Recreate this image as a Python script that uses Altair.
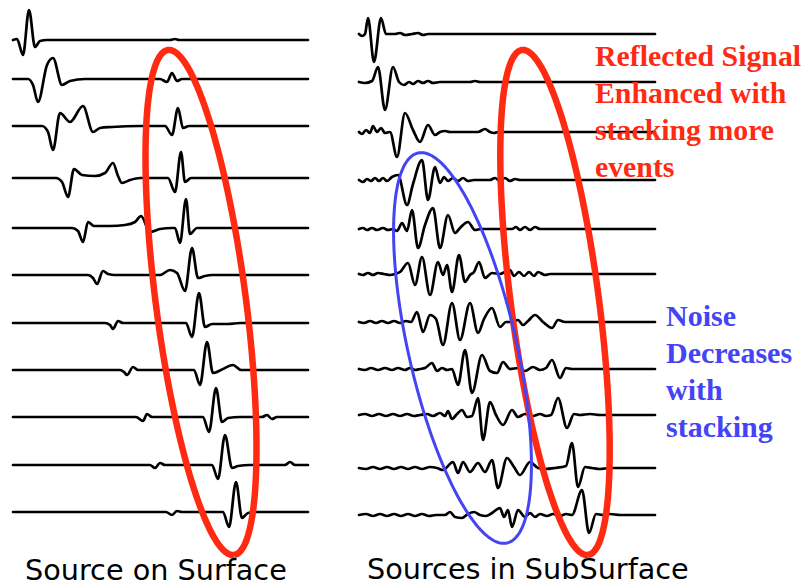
import math
import altair as alt
import pandas as pd

# ---------------- data ----------------
# Baselines of the 11 traces in each panel (plot units, y grows downward)
LEFT_BASE = [40, 79, 126, 178, 228, 275, 323, 370, 417, 465, 512]
RIGHT_BASE = [34, 82, 132, 180, 229, 274, 322, 369, 415, 468, 515]

# Trace samples: (time position, upward deflection)
LEFT_TRACES = [
    [(13, 0), (17, 1), (23, -15), (29, 30), (35, -7), (40, -1), (47, 0), (170, 0), (175, 1), (179, 0), (308, 0)],
    [(13, 0), (28, 0), (33, -6), (38, -23), (47, 14), (53, 21), (62, -6), (70, -2), (85, 0), (160, 0), (167, -3),
     (172, 6), (177, -2), (182, 0), (308, 0)],
    [(13, 0), (42, 0), (48, -6), (53, -24), (60, 13), (70, 4), (83, 20), (93, -6), (100, -2), (112, -1), (140, 0),
     (165, 0), (172, -9), (178, 18), (183, -2), (189, 0), (308, 0)],
    [(13, 0), (56, 0), (62, -4), (68, -19), (74, 9), (82, 3), (95, 2), (105, 5), (113, 15), (118, 2), (122, -5),
     (130, -2), (140, 0), (168, 0), (175, -14), (181, 26), (185, -4), (191, 0), (308, 0)],
    [(13, 0), (72, 0), (78, -3), (83, -14), (88, 6), (94, 2), (110, 2), (125, 3), (135, 6), (141, 12), (150, -4),
     (160, -1), (172, 0), (175, 0), (180, -15), (186, 29), (190, -6), (197, 0), (308, 0)],
    [(13, 0), (88, 0), (93, -3), (97, -9), (103, 4), (108, 1), (115, 0), (160, 0), (170, 5), (177, 2), (185, -16),
     (192, 27), (198, -3), (205, -1), (212, 0), (308, 0)],
    [(13, 0), (105, 0), (110, -2), (113, -6), (118, 2), (123, 0), (186, 0), (192, -14), (199, 30), (205, -4),
     (212, -1), (228, -1), (240, 0), (308, 0)],
    [(13, 0), (120, 0), (124, -2), (127, -5), (133, 3), (138, 0), (194, 0), (200, -15), (207, 28), (213, -3),
     (221, 0), (233, 5), (241, 0), (308, 0)],
    [(13, 0), (136, 0), (143, -4), (147, 3), (152, 0), (203, 0), (209, -15), (216, 29), (222, -5), (228, -1),
     (240, 0), (262, 0), (267, 2), (272, -2), (277, 0), (308, 0)],
    [(13, 0), (150, 0), (155, -3), (160, 2), (165, 0), (212, 0), (218, -14), (225, 30), (232, -3), (238, -1),
     (250, 0), (285, 0), (290, 3), (295, 0), (308, 0)],
    [(13, 0), (166, 0), (172, -3), (177, 1), (182, 0), (223, 0), (229, -15), (236, 30), (242, -6), (248, -1),
     (256, 0), (308, 0)],
]

RIGHT_TRACES = [
    [(359, 0), (362, -2), (365, 0), (368, 16), (374, -28), (381, 16), (386, 0), (395, 0), (400, 1), (405, -1),
     (412, 0), (418, 1), (423, -1), (428, 0), (655, 0)],
    [(359, 0), (365, -1), (372, 1), (378, 15), (385, -28), (393, 15), (399, 0), (404, -3), (409, 0), (413, -2),
     (418, 1), (423, -1), (428, 1), (433, -1), (440, 0), (470, 0), (475, 1), (480, 0), (655, 0)],
    [(359, 0), (362, -2), (366, 2), (370, -1), (373, 6), (377, 0), (381, 4), (385, -1), (390, 0), (397, -25),
     (405, 19), (413, 2), (420, -10), (428, 7), (435, -3), (440, 0), (445, 1), (450, 0), (478, 0), (485, 3),
     (490, 0), (494, -1), (498, 0), (655, 0)],
    [(359, 0), (363, -2), (367, 1), (371, -1), (375, 2), (379, -1), (383, 2), (387, -1), (392, 3), (398, 5),
     (407, -25), (413, -4), (422, 20), (428, -20), (435, 13), (440, -3), (444, 3), (448, -1), (453, 2),
     (458, -1), (463, 2), (468, -1), (474, 0), (490, 0), (495, 2), (500, -1), (505, 2), (510, -1), (515, 1),
     (520, 0), (655, 0)],
    [(359, 0), (363, 1), (367, -1), (372, 1), (377, -1), (383, 1), (388, -1), (393, 0), (397, -2), (402, 6),
     (407, -2), (412, 19), (418, -19), (425, 4), (433, 21), (440, -19), (448, 14), (455, -4), (460, 1),
     (468, 7), (475, -1), (481, 0), (512, 0), (516, 2), (520, -1), (525, 2), (530, -1), (535, 2), (540, 0),
     (655, 0)],
    [(359, 0), (363, -1), (368, 1), (373, -1), (378, 1), (384, 0), (390, -1), (395, 0), (400, 2), (408, 11),
     (415, -11), (422, 17), (430, -21), (438, 12), (443, -1), (447, 9), (452, -18), (459, 19), (465, -8),
     (470, -1), (474, 2), (479, 12), (485, -4), (492, 1), (500, 0), (505, 2), (510, 4), (514, -2), (519, 2),
     (524, -2), (529, 2), (534, -2), (538, 2), (545, -1), (550, 0), (655, 0)],
    [(359, 0), (364, -1), (370, 1), (376, -1), (382, 1), (388, -1), (394, 1), (400, -1), (406, 1), (411, 0),
     (417, 10), (423, -10), (430, 7), (436, 3), (443, -23), (452, 19), (460, -18), (470, 19), (478, -11),
     (484, 3), (492, 14), (500, -5), (506, 0), (512, 0), (518, 2), (523, -3), (528, 1), (535, 7), (543, 0),
     (552, -6), (558, 2), (565, 0), (655, 0)],
    [(359, 0), (365, -1), (371, 1), (378, -1), (385, 1), (392, -1), (398, 1), (405, -1), (410, 1), (415, -1),
     (420, 0), (425, 1), (432, 6), (437, -2), (442, 1), (447, -1), (452, 0), (458, -16), (465, 19), (472, -24),
     (482, 14), (490, -2), (497, -4), (503, 7), (510, 0), (518, 1), (525, -2), (533, 2), (540, -1), (546, 1),
     (552, 9), (560, -9), (566, 1), (572, 0), (655, 0)],
    [(359, 0), (365, 1), (372, -1), (379, 1), (386, -1), (393, 1), (400, -1), (407, 1), (414, -1), (420, 0),
     (427, 1), (433, -1), (440, 2), (445, -1), (448, 4), (452, -4), (457, 1), (462, 5), (467, -2), (472, -1),
     (478, 17), (483, -25), (490, 13), (496, 0), (503, -10), (512, 5), (518, -2), (525, 1), (533, -1),
     (540, 1), (546, -1), (551, 0), (558, 17), (567, -13), (574, 1), (580, 0), (590, 1), (600, 0), (655, 0)],
    [(359, 0), (366, -1), (373, 1), (380, -1), (387, 1), (394, -1), (401, 1), (408, -1), (415, 1), (422, -1),
     (430, 1), (437, 0), (443, -2), (453, 6), (458, -5), (463, 6), (470, -4), (478, 5), (485, -4), (492, 8),
     (498, -20), (507, 10), (514, 1), (520, -7), (530, 6), (538, 0), (545, -1), (555, 0), (566, 2), (572, 25),
     (578, -19), (585, 1), (592, 0), (600, -1), (610, 0), (655, 0)],
    [(359, 0), (366, 1), (373, -1), (380, 1), (387, -1), (394, 1), (401, -1), (408, 1), (415, -1), (422, 1),
     (429, -1), (436, 0), (445, 0), (450, 3), (455, -2), (462, -3), (468, 1), (474, 3), (480, 0), (486, -1),
     (492, 2), (500, 7), (504, -2), (508, 5), (512, -12), (518, 5), (525, -2), (530, 2), (535, -2), (540, 1),
     (547, -1), (553, 1), (560, -1), (566, 1), (572, 0), (582, 25), (589, -18), (596, 1), (603, 0), (610, 1),
     (620, 0), (655, 0)],
]

# Ellipse outlines: top end, bottom end of the long axis, half-width
RED_LEFT = {"top": (168, 50), "bottom": (234, 555), "half": 45}
RED_RIGHT = {"top": (522, 50), "bottom": (588, 555), "half": 44}
BLUE = {"top": (418, 153), "bottom": (507, 543), "half": 54}

RED_TEXT = ["Reflected Signal", "Enhanced with", "stacking more", "events"]
BLUE_TEXT = ["Noise", "Decreases", "with", "stacking"]
CAPTIONS = ["Source on Surface", "Sources in SubSurface"]

# ---------------- build tables ----------------
rows = []
for panel, bases, traces in (("L", LEFT_BASE, LEFT_TRACES), ("R", RIGHT_BASE, RIGHT_TRACES)):
    for k, (b, pts) in enumerate(zip(bases, traces)):
        for i, (t, a) in enumerate(pts):
            rows.append({"trace": f"{panel}{k}", "i": i, "x": t, "y": b - a})
traces_df = pd.DataFrame(rows)


def ellipse(spec, n=260):
    (x1, y1), (x2, y2), b = spec["top"], spec["bottom"], spec["half"]
    cx, cy = (x1 + x2) / 2, (y1 + y2) / 2
    dx, dy = x2 - x1, y2 - y1
    a = math.hypot(dx, dy) / 2
    ux, uy = dx / (2 * a), dy / (2 * a)
    vx, vy = uy, -ux
    out = []
    for j in range(n + 1):
        t = 2 * math.pi * j / n
        out.append({"i": j,
                    "x": cx + a * math.cos(t) * ux + b * math.sin(t) * vx,
                    "y": cy + a * math.cos(t) * uy + b * math.sin(t) * vy})
    return pd.DataFrame(out)


X = alt.X("x:Q", scale=alt.Scale(domain=[0, 810], nice=False, zero=False), axis=None)
Y = alt.Y("y:Q", scale=alt.Scale(domain=[586, 0], nice=False, zero=False), axis=None)

trace_layer = alt.Chart(traces_df).mark_line(
    interpolate="monotone", color="black", strokeWidth=2.7, strokeJoin="round", strokeCap="round"
).encode(x=X, y=Y, detail="trace:N", order="i:Q")


def ell_layer(spec, color, w):
    return alt.Chart(ellipse(spec)).mark_line(color=color, strokeWidth=w, strokeJoin="round").encode(
        x=X, y=Y, order="i:Q")


red = "#ff2a12"
blue = "#4444f4"

red_df = pd.DataFrame({"t": RED_TEXT, "x": [595] * 4, "y": [66, 103, 140, 177]})
blue_df = pd.DataFrame({"t": BLUE_TEXT, "x": [666] * 4, "y": [326, 363, 400, 437]})
cap_df = pd.DataFrame({"t": CAPTIONS, "x": [25, 367], "y": [580, 579]})

red_text = alt.Chart(red_df).mark_text(
    align="left", baseline="alphabetic", font="Liberation Serif", fontWeight="bold", fontSize=29.8, color=red
).encode(x=X, y=Y, text="t:N")
blue_text = alt.Chart(blue_df).mark_text(
    align="left", baseline="alphabetic", font="Liberation Serif", fontWeight="bold", fontSize=30, color=blue
).encode(x=X, y=Y, text="t:N")
cap_text = alt.Chart(cap_df).mark_text(
    align="left", baseline="alphabetic", font="DejaVu Sans", fontSize=28.7, color="black"
).encode(x=X, y=Y, text="t:N")

chart = alt.layer(
    trace_layer,
    ell_layer(RED_LEFT, red, 6.5),
    ell_layer(RED_RIGHT, red, 6.5),
    ell_layer(BLUE, blue, 3),
    red_text, blue_text, cap_text,
).properties(
    width=810, height=586, autosize=alt.AutoSizeParams(type="none"), padding=0, background="white"
).configure_view(stroke=None)

chart.save("out.html", embed_options={"renderer": "svg", "actions": False})
